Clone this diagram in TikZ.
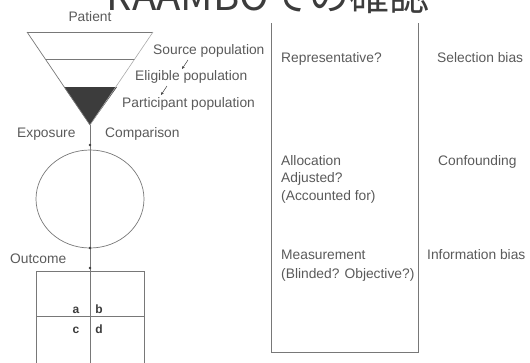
\documentclass[tikz,border=0pt]{standalone}
\usepackage{fontspec}
\setmainfont{Liberation Sans}
\newfontfamily\cjk{Noto Sans CJK JP}
\usetikzlibrary{arrows.meta}
\definecolor{txt}{RGB}{90,90,90}
\definecolor{ln}{RGB}{120,120,120}
\definecolor{lnlight}{RGB}{170,170,170}
\definecolor{dark}{RGB}{60,60,60}
\tikzset{
  lbl/.style={font=\fontsize{13.8}{16}\selectfont, text=txt, inner sep=0pt, anchor=mid west},
  cell/.style={font=\bfseries\fontsize{12}{14}\selectfont, text=dark, inner sep=0pt, anchor=mid},
  thin line/.style={draw=ln, line width=0.7pt},
  dotmark/.style={circle, fill=dark, inner sep=0pt, minimum size=2.6pt},
  tinyarrow/.style={draw=dark, line width=0.5pt, -{Stealth[length=3pt,width=2.5pt]}}
}
\begin{document}
\begin{tikzpicture}[x=1pt,y=-1pt]
\useasboundingbox (0,0) rectangle (530,362);
% title (cut off at the top, as in the reference)
\node[font=\cjk\fontsize{40}{44}\selectfont, text=dark, inner sep=0pt, anchor=base] (title) at (268,10) {RAAMBOでの確認};
% funnel
\coordinate (ftl) at (27,32);
\coordinate (ftr) at (153,32);
\coordinate (apex) at (90,125);
\coordinate (f2l) at (46,59);
\coordinate (f2r) at (135,59);
\coordinate (f3l) at (64,87);
\coordinate (f3r) at (117,87);
\fill[dark] (f3l) -- (f3r) -- (apex) -- cycle;
\draw[thin line] (ftl) -- (ftr);
\draw[thin line] (f2l) -- (f2r);
\draw[thin line] (ftl) -- (apex);
\draw[draw=lnlight, line width=0.6pt] (ftr) -- (apex);
\node[lbl, anchor=mid] (patient) at (90,19) {Patient};
\node[lbl] (source) at (153,52) {Source population};
\node[lbl] (eligible) at (135,78) {Eligible population};
\node[lbl] (participant) at (122,105) {Participant population};
\coordinate (a1s) at (188,60);
\coordinate (a1e) at (182,69);
\coordinate (a2s) at (167,86);
\coordinate (a2e) at (161,95);
\draw[tinyarrow] (a1s) -- (a1e);
\draw[tinyarrow] (a2s) -- (a2e);
% vertical axis
\coordinate (axisend) at (90,372);
\draw[thin line] (apex) -- (axisend);
% exposure / comparison
\node[lbl] (exposure) at (17,135) {Exposure};
\node[lbl] (comparison) at (105,135) {Comparison};
\draw[thin line] (90,199) ellipse [x radius=54, y radius=49];
\node[dotmark] (d1) at (90,145) {};
\node[dotmark] (d2) at (90,248) {};
\node[dotmark] (d3) at (90,268) {};
% outcome 2x2 table
\node[lbl] (outcome) at (10,261) {Outcome};
\draw[thin line] (36,372) -- (36,271) -- (144,271) -- (144,372);
\draw[thin line] (36,316) -- (144,316);
\node[cell] (ca) at (76,311) {a};
\node[cell] (cb) at (99,311) {b};
\node[cell] (cc) at (76,331) {c};
\node[cell] (cd) at (99,331) {d};
% middle column box
\draw[thin line] (271,23) -- (271,352) -- (418,352) -- (418,23);
\node[lbl] (repr) at (281,60) {Representative?};
\node[lbl] (alloc) at (281,163) {Allocation};
\node[lbl] (adj) at (281,180) {Adjusted?};
\node[lbl] (acc) at (281,198) {(Accounted for)};
\node[lbl] (meas) at (281,257) {Measurement};
\node[lbl] (blind) at (281,276) {(Blinded? Objective?)};
% right column
\node[lbl] (selbias) at (437,60) {Selection bias};
\node[lbl] (conf) at (438,163) {Confounding};
\node[lbl] (infobias) at (427,257) {Information bias};
\end{tikzpicture}
\end{document}
